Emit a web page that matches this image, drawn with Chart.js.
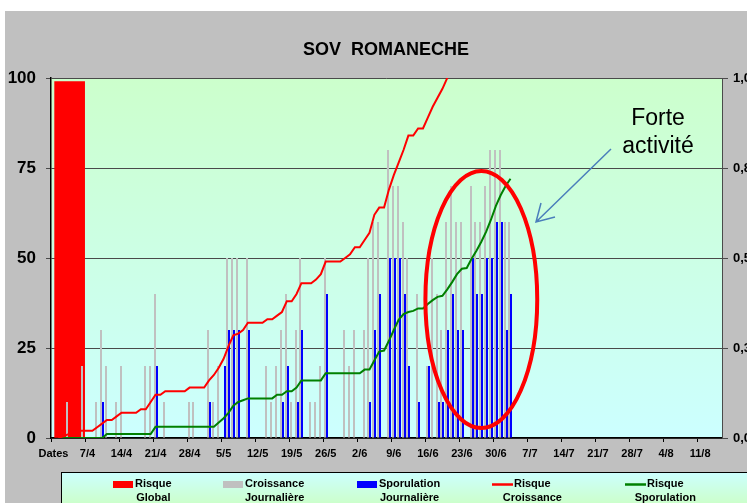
<!DOCTYPE html>
<html lang="fr">
<head>
  <meta charset="UTF-8" />
  <title>SOV ROMANECHE</title>
  <style>
    html, body { margin: 0; padding: 0; background: #fff; }
    #wrap { width: 747px; height: 503px; }
  </style>
</head>
<body>
  <div id="wrap"><canvas id="chart" width="747" height="503"></canvas></div>
  <script src="https://cdn.jsdelivr.net/npm/chart.js"></script>
  <script>
    // Libellés des dates : une case par jour, étiquette toutes les semaines
    const nDays = 138;
    const tickLabels = ['Dates', '7/4', '14/4', '21/4', '28/4', '5/5', '12/5', '19/5', '26/5', '2/6',
      '9/6', '16/6', '23/6', '30/6', '7/7', '14/7', '21/7', '28/7', '4/8', '11/8'];
    const dayLabels = ['Dates'];
    for (let d = 1; d < nDays; d++) {
      const dt = new Date(2011, 3, d);
      dayLabels.push(dt.getDate() + '/' + (dt.getMonth() + 1));
    }

    // Risque global (une seule barre sur un axe secondaire)
    const globalSlots = ['Global', '', '', '', '', '', '', '', '', '', '', '', '', '', '', '', '', ''];
    const risqueGlobal = [99];

    // Croissance journalière (barres grises)
    const croissance = [
      0, 0, 0, 10, 0, 0, 20, 0, 0, 10,
      30, 20, 0, 10, 20, 0, 0, 0, 0, 20,
      20, 40, 0, 10, 0, 0, 0, 0, 10, 10,
      0, 0, 30, 10, 20, 0, 50, 50, 50, 0,
      50, 0, 0, 0, 20, 10, 20, 30, 40, 10,
      30, 50, 0, 10, 10, 20, 50, 0, 0, 0,
      30, 20, 30, 0, 30, 50, 60, 60, 0, 80,
      70, 70, 60, 50, 0, 40, 0, 20, 50, 40,
      30, 60, 70, 60, 60, 0, 70, 60, 60, 70,
      80, 80, 80, 60, 60
    ];

    // Sporulation journalière (barres bleues)
    const sporulation = [
      0, 0, 0, 0, 0, 0, 0, 0, 0, 0,
      10, 0, 0, 0, 0, 0, 0, 0, 0, 0,
      0, 20, 0, 0, 0, 0, 0, 0, 0, 0,
      0, 0, 10, 0, 0, 20, 30, 30, 30, 0,
      30, 0, 0, 0, 0, 0, 0, 10, 20, 0,
      10, 30, 0, 0, 0, 0, 40, 0, 0, 0,
      0, 0, 0, 0, 0, 10, 30, 40, 0, 50,
      50, 50, 40, 20, 0, 10, 0, 20, 0, 10,
      10, 30, 40, 30, 30, 0, 50, 40, 40, 50,
      50, 60, 60, 30, 40
    ];

    // Risque croissance (courbe rouge, cumul)
    const risqueCroissance = [
      null, 0, 0.5, 1, 1.5, 2, 2, 2, 2, 3,
      4, 5, 5, 6, 7, 7, 7, 7, 8, 8,
      10, 12, 12, 13, 13, 13, 13, 13, 14, 14,
      14, 14, 16, 17.5, 19.5, 22, 25.5, 28.5, 29, 30,
      32, 32, 32, 32, 33, 33, 34, 35, 38, 38,
      40, 43, 43, 43, 44, 45.5, 49, 49, 49, 49,
      50, 51, 53, 53, 55, 57, 62, 64, 64, 69,
      73, 76.5, 80, 84, 84, 86, 86, 89, 92, 94.5,
      97, 100, 104, 107, 110, 112, 116, 120, 124, 128,
      133, 138, 142, 146, 150
    ];

    // Risque sporulation (courbe verte, cumul)
    const risqueSporulation = [
      null, 0, 0, 0, 0, 0, 0, 0, 0, 0,
      0, 1.1, 1.1, 1.1, 1.1, 1.1, 1.1, 1.1, 1.1, 1.1,
      1.1, 3.1, 3.1, 3.1, 3.1, 3.1, 3.1, 3.1, 3.1, 3.1,
      3.1, 3.1, 3.1, 3.1, 4.3, 5.5, 7, 9, 10, 10.5,
      11, 11, 11, 11, 11, 11, 12, 12, 13, 13,
      14, 16, 16, 16, 16, 16, 18, 18, 18, 18,
      18, 18, 18, 18, 19, 19, 21.5, 24, 24.3, 27,
      30, 32.8, 34.4, 35, 35.3, 36, 36, 37.2, 38.3, 39.2,
      39.5, 41.3, 43.3, 45.5, 47, 47.2, 49.8, 52, 54.5, 57.3,
      60.7, 64.5, 67.5, 70, 72
    ];

    const leftTicks = ['0', '25', '50', '75', '100'];
    const rightTicks = ['0,0', '0,3', '0,5', '0,8', '1,0'];

    // Zone "forte activité" (en jours / unités de l'axe gauche)
    const focusZone = { day: 88, value: 38.5, halfDays: 11.5, halfValue: 35.7 };

    const FONT = "'Liberation Sans', Arial, sans-serif";

    // Fonds : cadre gris + dégradé de la zone de tracé
    const backgrounds = {
      id: 'backgrounds',
      beforeDraw(chart) {
        const c = chart.ctx, a = chart.chartArea;
        c.save();
        c.fillStyle = '#ffffff';
        c.fillRect(0, 0, chart.width, chart.height);
        c.fillStyle = '#c0c0c0';
        c.fillRect(5, 11, chart.width - 5, chart.height - 11);
        const g = c.createLinearGradient(0, a.top, 0, a.bottom);
        g.addColorStop(0, '#ccffcc');
        g.addColorStop(1, '#ccffff');
        c.fillStyle = g;
        c.fillRect(a.left, a.top, a.right - a.left, a.bottom - a.top);
        c.restore();
      }
    };

    // Barres journalières calées sur les pixels (gris à gauche, bleu à droite)
    const crispBars = {
      id: 'crispBars',
      beforeDatasetsDraw(chart) {
        const xs = chart.scales.x;
        [[2, -1], [3, 1]].forEach(([di, side]) => {
          chart.getDatasetMeta(di).data.forEach((el, i) => {
            const c = Math.round(xs.getPixelForValue(i));
            el.x = c + side;
            el.width = 2;
          });
        });
      }
    };

    // Titre, légende et annotation
    const decorations = {
      id: 'decorations',
      afterDraw(chart) {
        const c = chart.ctx;
        const xs = chart.scales.x, ys = chart.scales.y;
        c.save();

        // titre
        c.fillStyle = '#000';
        c.font = 'bold 18px ' + FONT;
        c.textAlign = 'center';
        c.textBaseline = 'middle';
        c.fillText('SOV  ROMANECHE', 386, 50);

        // ellipse rouge
        const cx = xs.getPixelForValue(focusZone.day);
        const cy = ys.getPixelForValue(focusZone.value);
        const rx = xs.getPixelForValue(focusZone.day + focusZone.halfDays) - cx;
        const ry = cy - ys.getPixelForValue(focusZone.value + focusZone.halfValue);
        c.strokeStyle = '#ff0000';
        c.lineWidth = 4;
        c.beginPath();
        c.ellipse(cx, cy, rx, ry, 0, 0, Math.PI * 2);
        c.stroke();

        // flèche
        c.strokeStyle = '#4a7ebb';
        c.lineWidth = 1.5;
        c.beginPath();
        c.moveTo(611, 149);
        c.lineTo(536, 222);
        c.moveTo(541, 203);
        c.lineTo(536, 222);
        c.lineTo(555, 217);
        c.stroke();

        c.fillStyle = '#000';
        c.font = '23px ' + FONT;
        c.textAlign = 'center';
        c.fillText('Forte', 658, 119);
        c.fillText('activité', 658, 147);

        // légende
        const lx = 61, ly = 472;
        const lg = c.createLinearGradient(0, ly, 0, chart.height);
        lg.addColorStop(0, '#ccffff');
        lg.addColorStop(1, '#ccffcc');
        c.fillStyle = lg;
        c.fillRect(lx, ly, chart.width - lx + 2, chart.height - ly + 2);
        c.strokeStyle = '#000';
        c.lineWidth = 1;
        c.strokeRect(lx + 0.5, ly + 0.5, chart.width, chart.height);

        const items = [
          { x: 113, kind: 'box', color: '#ff0000', lines: ['Risque', 'Global'] },
          { x: 223, kind: 'box', color: '#c0c0c0', lines: ['Croissance', 'Journalière'] },
          { x: 357, kind: 'box', color: '#0000ff', lines: ['Sporulation', 'Journalière'] },
          { x: 492, kind: 'line', color: '#ff0000', lines: ['Risque', 'Croissance'] },
          { x: 625, kind: 'line', color: '#008000', lines: ['Risque', 'Sporulation'] }
        ];
        c.font = 'bold 11px ' + FONT;
        c.textBaseline = 'middle';
        items.forEach(it => {
          if (it.kind === 'box') {
            c.fillStyle = it.color;
            c.fillRect(it.x, 481, 20, 7);
          } else {
            c.strokeStyle = it.color;
            c.lineWidth = 2.5;
            c.beginPath();
            c.moveTo(it.x, 484.5);
            c.lineTo(it.x + 21, 484.5);
            c.stroke();
          }
          const tx = it.x + 22;
          const w = c.measureText(it.lines[0]).width;
          c.fillStyle = '#000';
          c.textAlign = 'left';
          c.fillText(it.lines[0], tx, 484);
          c.textAlign = 'center';
          c.fillText(it.lines[1], tx + w / 2, 498);
        });
        c.restore();
      }
    };

    const ctx = document.getElementById('chart').getContext('2d');
    new Chart(ctx, {
      type: 'bar',
      data: {
        labels: dayLabels,
        datasets: [
          {
            type: 'line', label: 'Risque Croissance', data: risqueCroissance,
            borderColor: '#ff0000', borderWidth: 2, pointRadius: 0, tension: 0,
            yAxisID: 'y', order: 0
          },
          {
            type: 'line', label: 'Risque Sporulation', data: risqueSporulation,
            borderColor: '#008000', borderWidth: 2, pointRadius: 0, tension: 0,
            yAxisID: 'y', order: 1
          },
          {
            label: 'Croissance Journalière', data: croissance, backgroundColor: '#c0c0c0',
            yAxisID: 'y', order: 2, categoryPercentage: 0.8, barPercentage: 1
          },
          {
            label: 'Sporulation Journalière', data: sporulation, backgroundColor: '#0000ff',
            yAxisID: 'y', order: 3, categoryPercentage: 0.8, barPercentage: 1
          },
          {
            label: 'Risque Global', data: risqueGlobal, backgroundColor: '#ff0000',
            xAxisID: 'xg', yAxisID: 'y', order: 4, grouped: false, barThickness: 30
          }
        ]
      },
      options: {
        responsive: false,
        animation: false,
        layout: { padding: { top: 78, left: 0, right: 0, bottom: 0 } },
        plugins: {
          legend: { display: false },
          title: { display: false },
          tooltip: { enabled: false }
        },
        scales: {
          x: {
            type: 'category',
            offset: true,
            afterFit: s => { s.height = 65; },
            grid: {
              drawOnChartArea: false,
              offset: true,
              tickLength: 4,
              color: c => (c.index % 7 === 0 ? '#000' : 'rgba(0,0,0,0)')
            },
            border: { color: '#000', width: 1.5 },
            ticks: {
              autoSkip: false,
              maxRotation: 0,
              minRotation: 0,
              padding: 5,
              color: '#000',
              font: { family: FONT, size: 11, weight: 'bold' },
              callback: (v, i) => (i % 7 === 0 ? tickLabels[i / 7] : '')
            }
          },
          xg: {
            type: 'category',
            labels: globalSlots,
            offset: true,
            display: false,
            ticks: { autoSkip: false }
          },
          y: {
            position: 'left',
            min: 0,
            max: 100,
            afterFit: s => { s.width = 51; },
            grid: { color: '#4a4a4a', lineWidth: 1, tickLength: 5 },
            border: { color: '#000', width: 1.5 },
            ticks: {
              stepSize: 25,
              padding: 10,
              color: '#000',
              font: { family: FONT, size: 17, weight: 'bold' },
              callback: (v, i) => leftTicks[i]
            }
          },
          y1: {
            position: 'right',
            min: 0,
            max: 1,
            afterFit: s => { s.width = 25; },
            grid: { drawOnChartArea: false, color: '#4a4a4a', tickLength: 6 },
            border: { color: '#4a4a4a', width: 1 },
            ticks: {
              stepSize: 0.25,
              padding: 5,
              color: '#000',
              font: { family: FONT, size: 13, weight: 'bold' },
              callback: (v, i) => rightTicks[i]
            }
          }
        }
      },
      plugins: [backgrounds, crispBars, decorations]
    });
  </script>
</body>
</html>
